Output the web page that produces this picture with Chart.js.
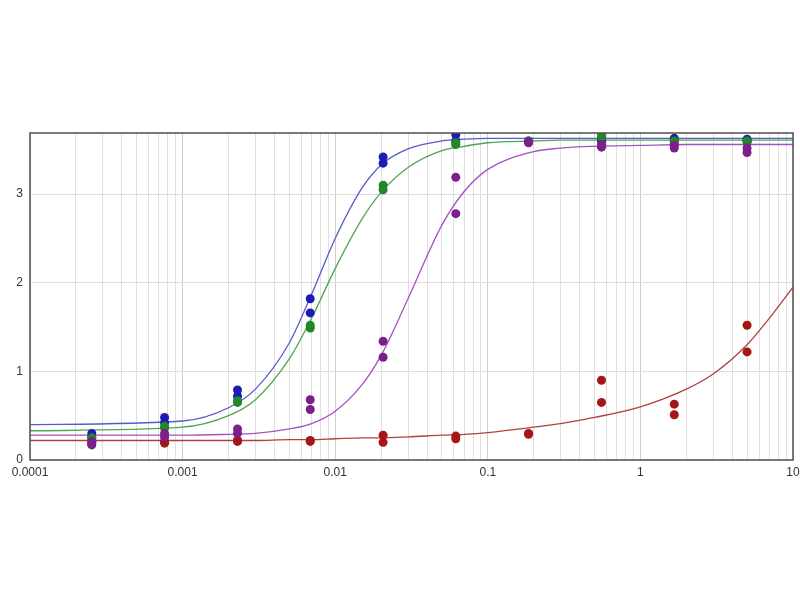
<!DOCTYPE html>
<html>
<head>
<meta charset="utf-8">
<script src="https://cdn.jsdelivr.net/npm/chart.js@4/dist/chart.umd.min.js"></script>
<style>
  html, body { margin: 0; padding: 0; background: #fff; }
  #wrap { width: 800px; height: 600px; }
</style>
</head>
<body>
<div id="wrap"><canvas id="chart" width="800" height="600"></canvas></div>
<script>
// doses (3-fold dilution), two replicates per series
const doses = [5, 1.667, 0.556, 0.185, 0.0617, 0.0206, 0.00686, 0.00229, 0.000762, 0.000254]

const blueRep1 = [3.62, 3.63, 3.63, 3.60, 3.67, 3.42, 1.82, 0.79, 0.48, 0.30]
const blueRep2 = [3.60, 3.60, 3.60, 3.59, 3.60, 3.35, 1.66, 0.72, 0.42, 0.26]
const greenRep1 = [3.60, 3.60, 3.68, 3.60, 3.58, 3.10, 1.52, 0.67, 0.38, 0.25]
const greenRep2 = [3.58, 3.58, 3.64, 3.59, 3.56, 3.05, 1.49, 0.65, 0.36, 0.24]
const purpleRep1 = [3.52, 3.55, 3.56, 3.59, 3.19, 1.34, 0.68, 0.35, 0.30, 0.21]
const purpleRep2 = [3.47, 3.52, 3.53, 3.58, 2.78, 1.16, 0.57, 0.30, 0.26, 0.17]
const redRep1 = [1.52, 0.63, 0.90, 0.30, 0.27, 0.28, 0.22, 0.22, 0.21, 0.20]
const redRep2 = [1.22, 0.51, 0.65, 0.29, 0.24, 0.20, 0.21, 0.21, 0.19, 0.18]

// fitted curves at these x positions
const curveX = [0.0001, 0.001, 0.002, 0.003, 0.005, 0.007, 0.01, 0.015, 0.02, 0.03, 0.05, 0.07, 0.1, 0.2, 0.3, 0.5, 1, 2, 3, 5, 7, 10]
const blueFit = [0.40, 0.44, 0.59, 0.80, 1.32, 1.87, 2.50, 3.07, 3.33, 3.51, 3.60, 3.62, 3.63, 3.63, 3.63, 3.63, 3.63, 3.63, 3.63, 3.63, 3.63, 3.63]
const greenFit = [0.33, 0.37, 0.50, 0.68, 1.14, 1.60, 2.16, 2.72, 3.02, 3.30, 3.49, 3.54, 3.58, 3.60, 3.61, 3.61, 3.61, 3.61, 3.61, 3.61, 3.61, 3.61]
const purpleFit = [0.28, 0.28, 0.29, 0.30, 0.35, 0.41, 0.55, 0.85, 1.18, 1.82, 2.65, 3.03, 3.28, 3.48, 3.52, 3.54, 3.55, 3.56, 3.56, 3.56, 3.56, 3.56]
const redFit = [0.22, 0.22, 0.22, 0.22, 0.23, 0.23, 0.24, 0.25, 0.25, 0.26, 0.28, 0.29, 0.31, 0.37, 0.41, 0.48, 0.60, 0.80, 0.97, 1.30, 1.60, 1.95]

const xTickValues = [0.0001, 0.001, 0.01, 0.1, 1, 10]
const xTickLabels = ['0.0001', '0.001', '0.01', '0.1', '1', '10']
const yTickValues = [0, 1, 2, 3]

const pts = (xs, ys) => xs.map((x, i) => ({ x: x, y: ys[i] }))

function dots(data, color, order) {
    return {
        data: data, showLine: false, pointRadius: 4.5, pointHoverRadius: 4.5,
        backgroundColor: color, borderColor: color, borderWidth: 0, order: order
    }
}

function fitLine(data, color) {
    return {
        data: data, showLine: true, pointRadius: 0, borderColor: color,
        borderWidth: 1.3, cubicInterpolationMode: 'monotone', fill: false, order: 10
    }
}

const frame = {
    id: 'frame',
    afterDraw(chart) {
        const a = chart.chartArea
        const ctx = chart.ctx
        ctx.save()
        ctx.strokeStyle = '#505050'
        ctx.lineWidth = 1.5
        ctx.strokeRect(a.left, a.top, a.right - a.left, a.bottom - a.top)
        ctx.restore()
    }
}

new Chart(document.getElementById('chart').getContext('2d'), {
    type: 'scatter',
    data: {
        datasets: [
            fitLine(pts(curveX, blueFit), '#5a5ac8'),
            fitLine(pts(curveX, greenFit), '#4fa64f'),
            fitLine(pts(curveX, purpleFit), '#a552c0'),
            fitLine(pts(curveX, redFit), '#b24040'),
            dots(pts(doses, redRep1), '#a51616', 5),
            dots(pts(doses, redRep2), '#a51616', 5),
            dots(pts(doses, blueRep1), '#1c1cb4', 4),
            dots(pts(doses, blueRep2), '#1c1cb4', 4),
            dots(pts(doses, greenRep1), '#22862a', 3),
            dots(pts(doses, greenRep2), '#22862a', 3),
            dots(pts(doses, purpleRep1), '#7c1f8a', 2),
            dots(pts(doses, purpleRep2), '#7c1f8a', 2)
        ]
    },
    options: {
        responsive: false,
        animation: false,
        layout: { padding: { left: 0, top: 133, right: 7, bottom: 0 } },
        plugins: { legend: { display: false }, tooltip: { enabled: false } },
        scales: {
            x: {
                type: 'logarithmic',
                min: 0.0001,
                max: 10,
                afterFit(scale) {
                    scale.height = 140
                    scale.paddingLeft = 0
                    scale.paddingRight = 0
                },
                afterBuildTicks(scale) {
                    const t = []
                    for (let e = -4; e <= 1; e++) {
                        for (let m = 1; m <= 9; m++) {
                            const v = m * Math.pow(10, e)
                            if (v <= 10.0001) t.push({ value: v, major: m === 1 })
                        }
                    }
                    scale.ticks = t
                },
                ticks: {
                    autoSkip: false,
                    maxRotation: 0,
                    padding: 5,
                    color: '#333',
                    font: { family: 'Liberation Sans, Arial, sans-serif', size: 12 },
                    callback(value) {
                        const i = xTickValues.findIndex(v => Math.abs(v - value) / v < 1e-6)
                        return i >= 0 ? xTickLabels[i] : ''
                    }
                },
                grid: {
                    drawTicks: false,
                    color(ctx) {
                        return ctx.tick && ctx.tick.major ? '#cfcfcf' : '#e0e0e0'
                    },
                    lineWidth: 1
                },
                border: { display: false }
            },
            y: {
                min: 0,
                max: 3.69,
                afterFit(scale) { scale.width = 30 },
                afterBuildTicks(scale) {
                    scale.ticks = yTickValues.map(v => ({ value: v }))
                },
                ticks: {
                    padding: 7,
                    color: '#333',
                    font: { family: 'Liberation Sans, Arial, sans-serif', size: 12 }
                },
                grid: { drawTicks: false, color: '#dddddd', lineWidth: 1 },
                border: { display: false }
            }
        }
    },
    plugins: [frame]
})
</script>
</body>
</html>
